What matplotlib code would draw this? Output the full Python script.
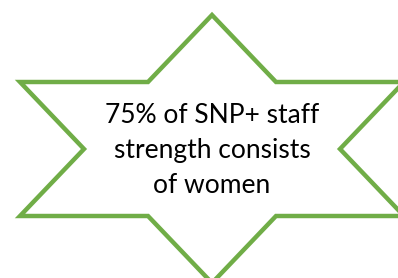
import matplotlib
matplotlib.use("Agg")
import matplotlib.pyplot as plt
from matplotlib.patches import Polygon

# Star outline geometry (pixel space of the 398x278 canvas)
star_x = [212, 276, 404, 340, 404, 276, 212, 148, 20, 84, 20, 148]
star_y = [15, 82, 82, 149, 216, 216, 283, 216, 216, 149, 82, 82]

text_lines = ["75% of SNP+ staff", "strength consists", "of women"]
line_baselines = [123, 158, 193]

fig = plt.figure(figsize=(3.98, 2.78), dpi=100)
ax = fig.add_axes([0, 0, 1, 1])
ax.set_xlim(0, 398)
ax.set_ylim(278, 0)
ax.axis("off")

poly = Polygon(list(zip(star_x, star_y)), closed=True, facecolor="white",
               edgecolor="#70AD47", linewidth=3.2, joinstyle="miter")
ax.add_patch(poly)

for line, yb in zip(text_lines, line_baselines):
    ax.text(212, yb, line, ha="center", va="baseline", fontsize=19,
            family="Lato", color="black")

fig.savefig("out.png", dpi=100, facecolor="white")
